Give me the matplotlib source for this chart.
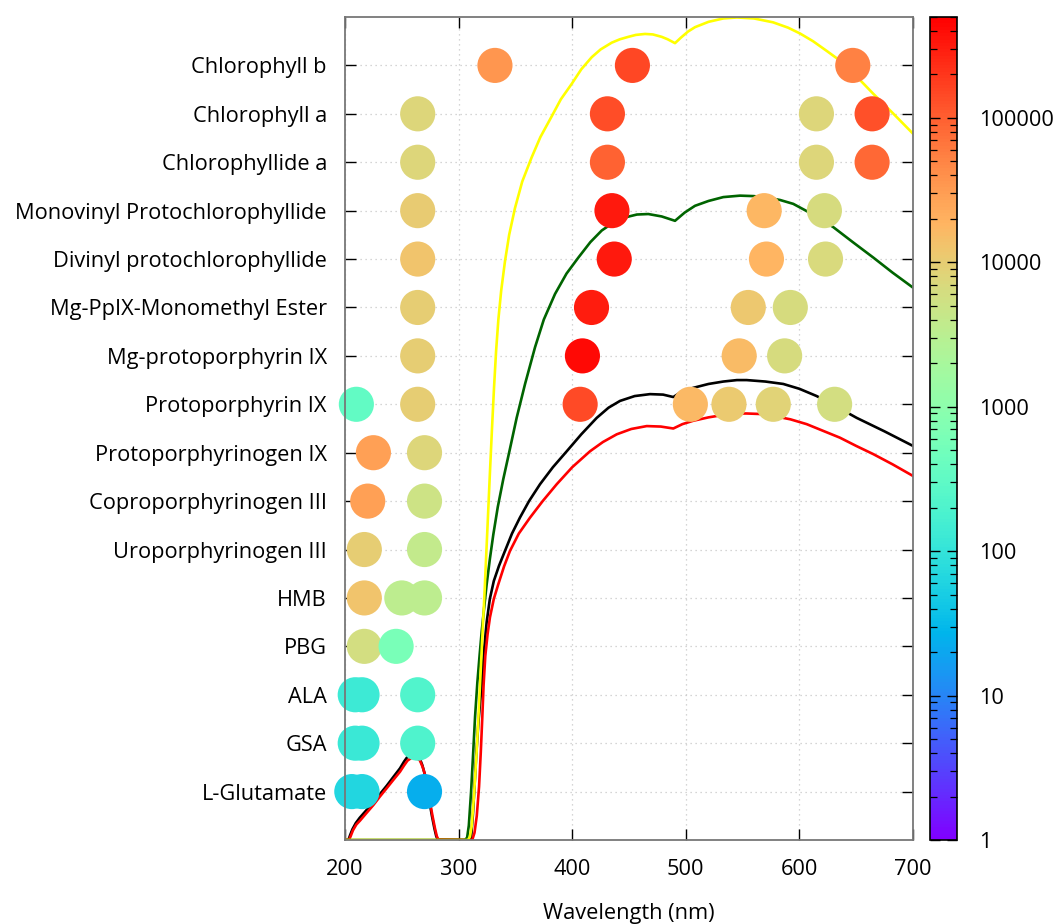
import numpy as np
import matplotlib
matplotlib.use("Agg")
from matplotlib import pyplot as plt
from matplotlib.colors import LogNorm
from matplotlib.ticker import FixedLocator, FuncFormatter, LogLocator

plt.rcParams['font.family'] = ['Open Sans', 'DejaVu Sans']
plt.rcParams['font.size'] = 15.7

compounds = ["L-Glutamate", "GSA", "ALA", "PBG", "HMB", "Uroporphyrinogen III",
             "Coproporphyrinogen III", "Protoporphyrinogen IX", "Protoporphyrin IX",
             "Mg-protoporphyrin IX", "Mg-PpIX-Monomethyl Ester",
             "Divinyl protochlorophyllide", "Monovinyl Protochlorophyllide",
             "Chlorophyllide a", "Chlorophyll a", "Chlorophyll b"]

# absorption peaks: row index, wavelength (nm), extinction coefficient
peak_row = [0, 0, 0,
            1, 1, 1,
            2, 2, 2,
            3, 3,
            4, 4, 4,
            5, 5,
            6, 6,
            7, 7,
            8, 8, 8, 8, 8, 8, 8,
            9, 9, 9, 9,
            10, 10, 10, 10,
            11, 11, 11, 11,
            12, 12, 12, 12,
            13, 13, 13, 13,
            14, 14, 14, 14,
            15, 15, 15]
peak_nm = [206, 215, 270,
           209, 215, 264,
           209, 215, 264,
           217, 245,
           217, 250, 270,
           217, 270,
           220, 270,
           225, 270,
           210, 264, 407, 504, 538, 577, 631,
           264, 409, 547, 587,
           264, 417, 555, 592,
           264, 437, 571, 623,
           264, 435, 569, 622,
           264, 431, 615, 664,
           264, 431, 615, 664,
           332, 453, 647]
peak_eps = [65, 65, 23,
            120, 120, 200,
            125, 125, 215,
            5800, 580,
            12500, 3400, 3400,
            10000, 4000,
            29000, 5100,
            29000, 7500,
            344, 10000, 145000, 16500, 11000, 8700, 5800,
            10000, 420000, 16000, 6500,
            10000, 300000, 11700, 6600,
            13000, 320000, 18000, 7000,
            10500, 330000, 17000, 6700,
            7500, 93000, 7500, 85000,
            7500, 135000, 7500, 126000,
            36000, 152000, 54000]

# spectra (nm, position on the category axis)
yellow_nm = [200, 308.3, 310, 311.5, 313.5, 315.9, 318, 320.3, 323, 325.5,
             327.6, 329.5, 331.2, 333, 335, 337.5, 340.8, 344.5, 349.6, 356,
             364.3, 372, 382, 390, 399.6, 408, 417.2, 425, 434.8, 442,
             449.4, 456, 464.1, 471, 478.8, 484, 490.5, 496, 502, 508.1,
             520, 533, 545, 560, 576.8, 590, 600.5, 612, 624, 635.7,
             650, 664.8, 682, 700]
yellow_y = [-1.0, -1.0, -0.93, -0.72, -0.1, 0.83, 1.8, 2.9, 4.2, 5.5,
            6.6, 7.55, 8.35, 9.1, 9.75, 10.35, 10.95, 11.5, 12.05, 12.6,
            13.1, 13.52, 13.95, 14.3, 14.62, 14.92, 15.17, 15.33, 15.47, 15.54,
            15.59, 15.63, 15.65, 15.64, 15.59, 15.54, 15.46, 15.58, 15.7, 15.79,
            15.9, 15.97, 15.99, 15.97, 15.89, 15.78, 15.66, 15.5, 15.3, 15.1,
            14.78, 14.42, 14.02, 13.59]

green_nm = [200, 305.6, 307.5, 309, 311, 312.9, 314.5, 316.5, 318.5, 320.3,
            322.5, 324.7, 327.5, 330.5, 334.5, 339.3, 345.2, 351.1, 358.5, 367.3,
            375, 384.9, 395, 405.4, 416, 426, 436, 446.5, 457, 467,
            478.8, 490.5, 499, 508.1, 520, 533, 547.7, 560, 571.2, 583,
            594.6, 612, 629.8, 647, 665.1, 682, 700]
green_y = [-1.0, -1.0, -0.95, -0.7, 0.0, 0.83, 1.55, 2.25, 2.82, 3.3,
           3.8, 4.28, 4.8, 5.3, 5.88, 6.45, 7.08, 7.72, 8.42, 9.18,
           9.75, 10.28, 10.7, 11.03, 11.35, 11.59, 11.75, 11.86, 11.92, 11.93,
           11.88, 11.79, 11.96, 12.1, 12.2, 12.28, 12.31, 12.3, 12.27, 12.22,
           12.14, 11.92, 11.66, 11.35, 11.03, 10.72, 10.41]

black_nm = [200, 203, 204.5, 206.5, 209.5, 213, 219, 224.9, 230.8, 236.7,
            242.5, 248.4, 252, 255, 258.7, 262.5, 265.5, 268, 270, 272,
            274.3, 276.5, 278.7, 280.3, 281.6, 310, 311, 312.5, 314, 315.5,
            317.5, 320.3, 322.5, 324.7, 327.5, 331, 335.5, 340.8, 347, 354,
            362, 371.7, 383, 395.2, 408, 421.6, 432, 442.1, 455, 468.5,
            480, 489, 497, 506.6, 520, 533, 545, 553.6, 570, 585.8,
            600, 615.2, 632, 650.4, 675, 700]
black_y = [-1.0, -1.0, -0.9, -0.78, -0.65, -0.54, -0.38, -0.23, -0.05, 0.12,
           0.3, 0.48, 0.62, 0.72, 0.79, 0.78, 0.7, 0.55, 0.38, 0.12,
           -0.2, -0.5, -0.76, -0.92, -0.99, -1.0, -0.95, -0.5, 0.1, 0.75,
           1.45, 2.21, 2.95, 3.5, 3.98, 4.35, 4.66, 4.97, 5.33, 5.66,
           6.0, 6.35, 6.7, 7.03, 7.38, 7.72, 7.93, 8.07, 8.17, 8.21,
           8.2, 8.15, 8.27, 8.34, 8.42, 8.47, 8.5, 8.5, 8.47, 8.42,
           8.32, 8.17, 7.96, 7.72, 7.44, 7.14]

red_nm = [200, 203.5, 205, 207, 210, 213.2, 219, 224.9, 230.8, 236.7,
          242.5, 248.4, 252, 255, 258.7, 262.5, 266, 268.5, 270.4, 272.5,
          274.8, 277, 279.2, 280.8, 282.1, 312, 314, 316, 318, 319.5,
          320.8, 322, 323.5, 325.5, 327.6, 331, 334.9, 340, 345.2, 353,
          362.9, 374, 386.4, 400, 415.7, 427, 439.2, 452, 465.6, 478,
          489, 497, 506.6, 520, 533, 545, 553.6, 565, 577, 592,
          606.4, 620, 635.7, 650, 665.1, 682, 700]
red_y = [-1.0, -1.0, -0.92, -0.8, -0.68, -0.6, -0.44, -0.28, -0.1, 0.07,
         0.24, 0.41, 0.54, 0.64, 0.7, 0.71, 0.64, 0.5, 0.35, 0.1,
         -0.21, -0.5, -0.76, -0.92, -0.99, -1.0, -0.85, -0.5, 0.1, 0.8,
         1.5, 2.2, 2.8, 3.25, 3.6, 3.98, 4.28, 4.65, 4.97, 5.33,
         5.66, 6.0, 6.35, 6.7, 7.03, 7.22, 7.38, 7.49, 7.55, 7.54,
         7.5, 7.59, 7.66, 7.73, 7.78, 7.81, 7.81, 7.8, 7.76, 7.69,
         7.59, 7.46, 7.31, 7.14, 6.97, 6.76, 6.52]

fig = plt.figure(figsize=(10.57, 9.24), dpi=100)
ax = fig.add_axes([345 / 1057, 84 / 924, 568 / 1057, 823 / 924])
cax = fig.add_axes([930 / 1057, 84 / 924, 27 / 1057, 823 / 924])

line_kw = dict(lw=1.9, zorder=2, solid_joinstyle="round")
ax.plot(black_nm, black_y, color="black", **line_kw)
ax.plot(red_nm, red_y, color="#ff0000", **line_kw)
ax.plot(green_nm, green_y, color="#006400", **line_kw)
ax.plot(yellow_nm, yellow_y, color="#ffff00", **line_kw)

norm = LogNorm(vmin=1, vmax=5e5)
sc = ax.scatter(peak_nm, peak_row, c=peak_eps, cmap="rainbow", norm=norm,
                s=640, linewidths=0, zorder=2.4, clip_on=False)

ax.set_xlim(200, 700)
ax.set_ylim(-1, 16)
ax.set_xticks([200, 300, 400, 500, 600, 700])
ax.set_yticks(range(len(compounds)))
ax.set_yticklabels(compounds)
ax.set_xlabel("Wavelength (nm)", labelpad=16)
ax.grid(True, color="#c8c8c8", linestyle=(0, (1, 3)), lw=0.9)
ax.set_axisbelow(True)
ax.tick_params(direction="in", length=8, width=1, top=True, right=True,
               colors="black")
ax.tick_params(axis="x", pad=14)
ax.tick_params(axis="y", pad=13)
for sp in ax.spines.values():
    sp.set_color("#777777")
    sp.set_linewidth(1.3)

cb = fig.colorbar(sc, cax=cax)
cb.outline.set_edgecolor("black")
cb.outline.set_linewidth(1.2)
cax.yaxis.set_major_locator(FixedLocator([1, 10, 100, 1000, 10000, 100000]))
cax.yaxis.set_major_formatter(FuncFormatter(lambda v, p: "%d" % round(v)))
cax.yaxis.set_minor_locator(LogLocator(base=10, subs=np.arange(2, 10), numticks=20))
cax.tick_params(which="major", direction="in", length=7, width=1, left=True,
                right=True, pad=16)
cax.tick_params(which="minor", direction="in", length=5, width=0.9, left=True,
                right=True)

fig.savefig("out.png", dpi=100)
